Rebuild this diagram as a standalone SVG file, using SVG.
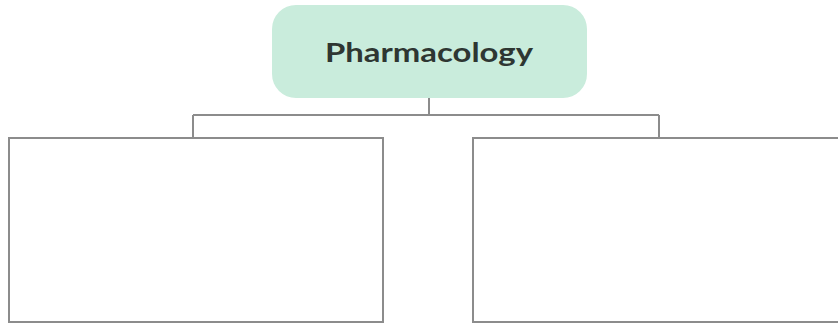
<svg xmlns="http://www.w3.org/2000/svg" width="838" height="324" viewBox="0 0 838 324">
<style>
.conn{fill:none;stroke:#8c8c8c;stroke-width:2}
.box{fill:#ffffff;stroke:#8c8c8c;stroke-width:2}
.title{font-family:"Lato","Liberation Sans",sans-serif;font-weight:bold;font-size:26px;fill:#2e3632}
</style>
<rect width="838" height="324" fill="#ffffff"/>
<g id="connectors">
<path class="conn" d="M429 98V115M193 115H659M193 115V138M659 115V138"/>
</g>
<g id="node-pharmacology">
<rect x="272" y="5" width="315" height="93" rx="24" fill="#c9ecdc"/>
<text class="title" x="429" y="62" text-anchor="middle" textLength="208" lengthAdjust="spacingAndGlyphs">Pharmacology</text>
</g>
<g id="node-left">
<rect class="box" x="9" y="138" width="374" height="184"/>
</g>
<g id="node-right">
<rect class="box" x="473" y="138" width="370" height="184"/>
</g>
</svg>
